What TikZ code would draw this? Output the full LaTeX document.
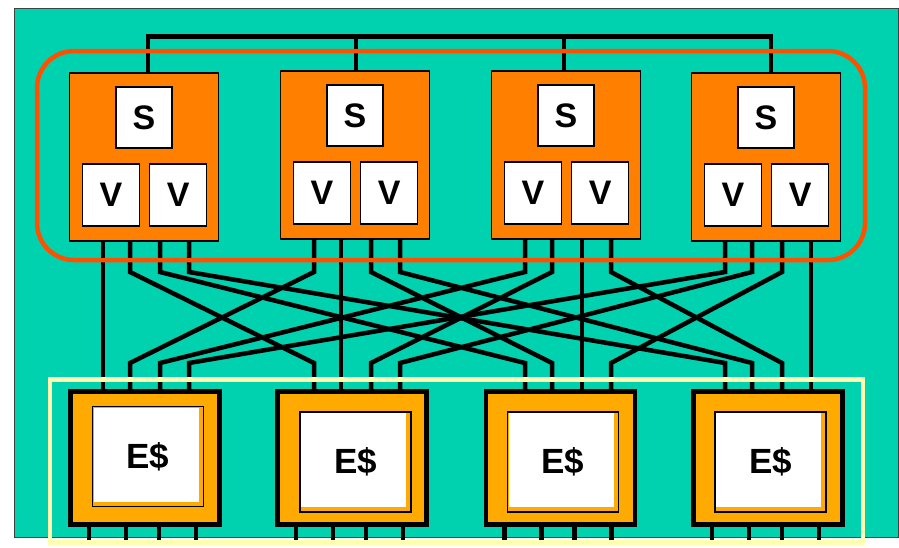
\documentclass[tikz,border=0pt]{standalone}
\usepackage{fontspec}
\setmainfont{Liberation Sans}
\usetikzlibrary{positioning}

\definecolor{boardgreen}{RGB}{0,210,175}
\definecolor{cpuorange}{RGB}{255,128,0}
\definecolor{memorange}{RGB}{255,170,0}
\definecolor{ringred}{RGB}{255,80,0}
\definecolor{paleyellow}{RGB}{255,255,176}

\begin{document}
\begin{tikzpicture}[x=1pt, y=-1pt,
    cpu/.style={draw=black, line width=1.3pt, fill=cpuorange, minimum width=149pt, minimum height=168pt, inner sep=0pt},
    unit/.style={draw=black, line width=1.3pt, fill=white, inner sep=0pt, minimum width=56pt, minimum height=61pt, font=\fontsize{34}{34}\selectfont\bfseries},
    mem/.style={draw=black, line width=4.5pt, fill=memorange, minimum width=149pt, minimum height=133pt, inner sep=0pt},
    cache/.style={draw=black, line width=1.3pt, fill=memorange, minimum width=111pt, minimum height=100pt, inner sep=0pt, font=\fontsize{35}{35}\selectfont\bfseries,
        path picture={\fill[white] ([xshift=1pt,yshift=-1pt]path picture bounding box.north west) rectangle ([xshift=-5pt,yshift=5pt]path picture bounding box.south east);}},
    wire/.style={draw=black, line width=4.5pt}]

    \useasboundingbox (0,0) rectangle (899,547);
    \fill[white] (0,0) rectangle (899,547);
    \draw[fill=boardgreen, draw=black!75, line width=1pt] (14,8) rectangle (898,537);

    % processors
    \foreach \i/\x/\y in {1/144/157, 2/355/155, 3/566/155, 4/766/157} {
        \node[cpu] (cpu\i) at (\x,\y) {};
        \node[unit, below=14pt of cpu\i.north] (s\i) {S};
        \node[unit, minimum width=57pt, minimum height=62pt, above right=15pt and 13pt of cpu\i.south west] (va\i) {V};
        \node[unit, minimum width=57pt, minimum height=62pt, right=9pt of va\i] (vb\i) {V};
    }

    % memory boards
    \foreach \j/\x/\cx/\cy in {1/145/148/456.5, 2/352/355.5/462, 3/560.5/563/462, 4/768/770.5/462} {
        \node[mem] (mem\j) at (\x,458) {};
        \node[cache] (ecache\j) at (\cx,\cy) {E\$};
    }

    % pin ends
    \foreach \i/\x in {1/144, 2/355, 3/566, 4/766}
        \foreach \j/\d in {1/-41, 2/-14, 3/16, 4/45} {
            \coordinate (tp\i\j) at (\x+\d,272);
            \coordinate (bp\i\j) at (\x+\d,363);
        }

    % bus on top
    \coordinate (bus) at (0,36.5);
    \draw[wire] ([xshift=4pt]cpu1.north) |- ([xshift=5pt]cpu4.north |- bus) -- ([xshift=5pt]cpu4.north);
    \draw[wire] ([xshift=1pt]cpu2.north) -- ([xshift=1pt]cpu2.north |- bus);
    \draw[wire] ([xshift=-2pt]cpu3.north) -- ([xshift=-2pt]cpu3.north |- bus);

    % crossbar
    \foreach \i in {1,...,4}
        \foreach \j in {1,...,4}
            \draw[wire] (cpu\i.south -| tp\i\j) -- (tp\i\j) -- (bp\j\i) -- (mem\j.north -| bp\j\i);

    % pins under the memory boards
    \foreach \j in {1,...,4}
        \foreach \d in {-56,-19,14,51}
            \draw[wire] ([xshift=\d pt]mem\j.south) -- ++(0,17);

    \node[draw=ringred, line width=4.5pt, rounded corners=37pt, minimum width=828pt, minimum height=209pt, inner sep=0pt] (smp) at (451,155.5) {};
    \node[draw=paleyellow, line width=4.5pt, minimum width=813pt, minimum height=163pt, inner sep=0pt] (memring) at (456.5,461) {};
\end{tikzpicture}
\end{document}
